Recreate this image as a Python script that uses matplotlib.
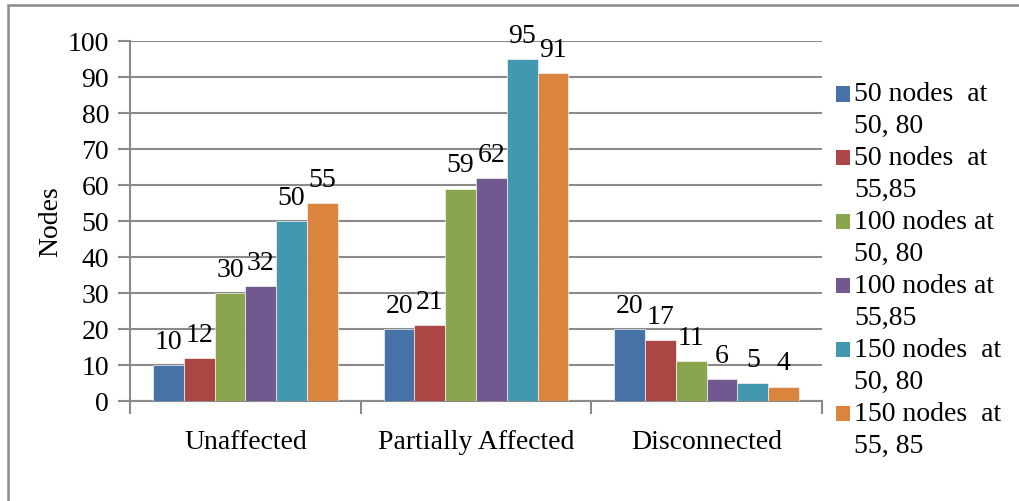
import matplotlib
matplotlib.use("Agg")
import matplotlib.pyplot as plt
from matplotlib.patches import Rectangle
from matplotlib.container import BarContainer
from matplotlib.legend_handler import HandlerPatch
import numpy as np

categories = ["Unaffected", "Partially Affected", "Disconnected"]
series_labels = ["50 nodes  at\n50, 80", "50 nodes  at\n55,85", "100 nodes at\n50, 80",
                 "100 nodes at\n55,85", "150 nodes  at\n50, 80", "150 nodes  at\n55, 85"]
s50_a = [10, 20, 20]
s50_b = [12, 21, 17]
s100_a = [30, 59, 11]
s100_b = [32, 62, 6]
s150_a = [50, 95, 5]
s150_b = [55, 91, 4]
series = [s50_a, s50_b, s100_a, s100_b, s150_a, s150_b]
colors = ["#4572A7", "#AA4643", "#89A54E", "#71588F", "#4198AF", "#DB843D"]
yticks = [0, 10, 20, 30, 40, 50, 60, 70, 80, 90, 100]

plt.rcParams['font.family'] = ['Liberation Serif', 'DejaVu Serif']
FS = 20
W, H = 1020, 502
fig = plt.figure(figsize=(W / 100, H / 100), dpi=100)
fig.patch.set_facecolor('white')

# outer chart frame
fig.add_artist(Rectangle((8 / W, -0.1), 1.2, (H - 6) / H + 0.1, transform=fig.transFigure,
                         fill=False, edgecolor='#8a8a8a', linewidth=1.8))

ax = fig.add_axes([130 / W, (H - 402) / H, (822 - 130) / W, 360 / H])
x = np.arange(len(categories))
bw = 0.8 / len(series)
for j, (vals, c, lab) in enumerate(zip(series, colors, series_labels)):
    pos = x + (j - (len(series) - 1) / 2) * bw
    ax.bar(pos, vals, width=bw, color=c, edgecolor='#f4f4f4', linewidth=0.5, label=lab, zorder=3)
    for p, v in zip(pos, vals):
        ax.annotate(str(v), (p, v), xytext=(0, 8), textcoords='offset points',
                    ha='center', va='bottom', fontsize=FS, zorder=4)

ax.set_xlim(-0.5, len(categories) - 0.5)
ax.set_ylim(0, 100)
ax.set_yticks(yticks)
ax.set_yticklabels([str(t) for t in yticks], fontsize=FS)
ax.yaxis.grid(True, color='#8a8a8a', linewidth=1.5, zorder=0)
ax.set_axisbelow(True)
ax.set_xticks(np.arange(len(categories) + 1) - 0.5)
ax.set_xticklabels([])
ax.set_xticks(x, minor=True)
ax.set_xticklabels(categories, minor=True, fontsize=FS)
ax.tick_params(axis='x', which='minor', length=0, pad=20)
ax.tick_params(axis='x', which='major', length=9, width=1.5, color='#8a8a8a', direction='out')
ax.tick_params(axis='y', length=9, width=1.5, color='#8a8a8a', direction='out', pad=6)
for s in ['top', 'right']:
    ax.spines[s].set_visible(False)
for s in ['left', 'bottom']:
    ax.spines[s].set_color('#8a8a8a')
    ax.spines[s].set_linewidth(1.5)
ax.set_ylabel("Nodes", fontsize=FS, labelpad=3)


def top_square(legend, orig_handle, xdescent, ydescent, width, height, fontsize):
    shift = 0.56 * fontsize
    return Rectangle((-xdescent, -ydescent + shift), width, height)


def copy_first(legend_handle, orig_handle):
    first = orig_handle[0]
    legend_handle.set_facecolor(first.get_facecolor())
    legend_handle.set_edgecolor('none')


leg = fig.legend(loc='upper left', bbox_to_anchor=(836 / W, 1 - 82 / H), frameon=False,
                 fontsize=FS, handlelength=0.5, handleheight=0.5, handletextpad=0.15,
                 labelspacing=0.25, borderpad=0, borderaxespad=0,
                 handler_map={BarContainer: HandlerPatch(patch_func=top_square,
                                                         update_func=copy_first)})
for t in leg.get_texts():
    t.set_linespacing(1.37)

fig.savefig("out.png", dpi=100, facecolor='white')
